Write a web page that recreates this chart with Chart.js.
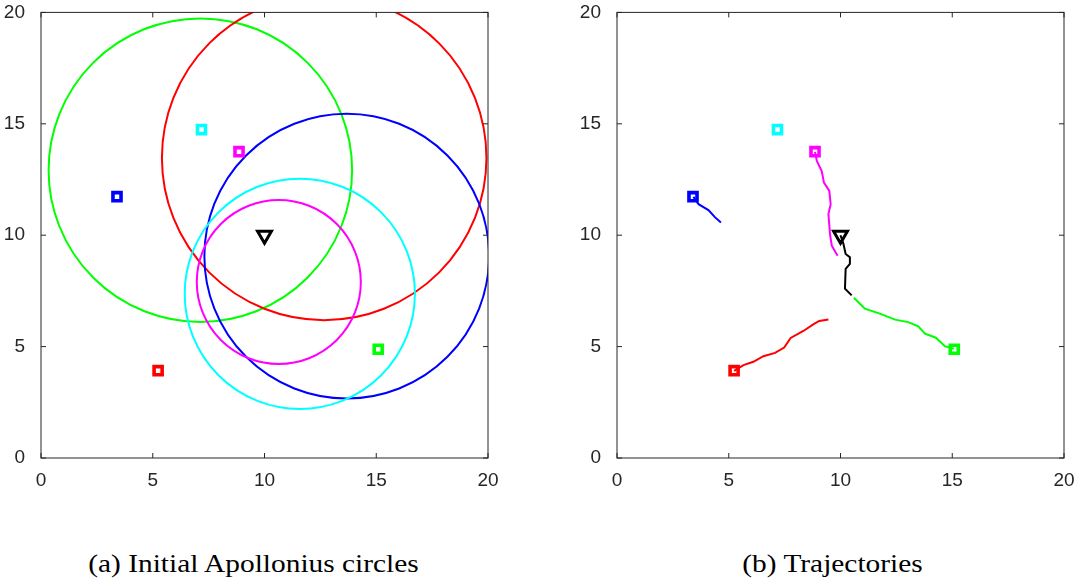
<!DOCTYPE html>
<html>
<head>
<meta charset="utf-8">
<script src="https://cdn.jsdelivr.net/npm/chart.js@4.4.0/dist/chart.umd.min.js"></script>
<style>
  body { margin: 0; background: #fff; width: 1081px; height: 583px; overflow: hidden; position: relative; }
  .panel { position: absolute; top: -7px; width: 505px; height: 507px; }
  .caption { position: absolute; top: 551px; width: 505px; text-align: center; line-height: 1;
             font-family: 'Liberation Serif', 'Times New Roman', serif; font-size: 26px; color: #000;
             transform: scaleX(1.13); }
</style>
</head>
<body>
<div class="panel" style="left:0"><canvas id="left"></canvas></div>
<div class="panel" style="left:576px"><canvas id="right"></canvas></div>
<div class="caption" style="left:1px">(a) Initial Apollonius circles</div>
<div class="caption" style="left:580px">(b) Trajectories</div>
<script>
const Chart = window.Chart;

// agents (blue, cyan, magenta, red, green) and the target
const agentX = [3.40, 7.18, 8.86, 5.24, 15.09];
const agentY = [11.73, 14.74, 13.75, 3.92, 4.88];
const agentColors = ['#0000ff', '#00ffff', '#ff00ff', '#ff0000', '#00ff00'];
const targetX = [10];
const targetY = [10];

// initial Apollonius circles
const circleX = [7.13, 12.67, 13.68, 11.58, 10.64];
const circleY = [12.92, 13.47, 9.06, 7.37, 7.90];
const circleR = [6.79, 7.26, 6.37, 5.15, 3.67];
const circleColors = ['#00ff00', '#ff0000', '#0000ff', '#00ffff', '#ff00ff'];

// trajectories
const blueX = [3.42, 3.65, 4.09, 4.39, 4.65];
const blueY = [11.72, 11.39, 11.13, 10.80, 10.57];
const magentaX = [8.86, 8.94, 9.16, 9.26, 9.50, 9.56, 9.46, 9.53, 9.61, 9.87];
const magentaY = [13.74, 13.33, 12.88, 12.36, 11.99, 11.39, 10.95, 10.05, 9.53, 9.08];
const blackX = [10.00, 10.13, 10.23, 10.42, 10.42, 10.23, 10.20, 10.50];
const blackY = [10.00, 9.61, 9.16, 9.01, 8.71, 8.49, 7.60, 7.30];
const greenX = [10.60, 11.09, 11.76, 12.44, 13.03, 13.48, 13.78, 14.27, 14.67, 15.07];
const greenY = [7.19, 6.70, 6.48, 6.21, 6.10, 5.91, 5.58, 5.40, 5.02, 4.90];
const redX = [5.24, 5.66, 6.10, 6.55, 7.07, 7.48, 7.77, 8.34, 8.78, 9.05, 9.46];
const redY = [3.91, 4.17, 4.32, 4.57, 4.72, 4.96, 5.39, 5.70, 6.00, 6.15, 6.22];

const tickValues = [0, 5, 10, 15, 20];
const axisColor = '#262626';

function points(xs, ys) {
  return xs.map((x, i) => ({x: x, y: ys[i]}));
}

function trajectory(xs, ys, color) {
  return {
    data: points(xs, ys),
    showLine: true,
    borderColor: color,
    borderWidth: 2,
    pointRadius: 0,
    clip: 0
  };
}

const agentSet = {
  data: points(agentX, agentY),
  pointStyle: 'rect',
  pointRadius: 5.7,
  pointBorderWidth: 3.6,
  pointBorderColor: agentColors,
  pointBackgroundColor: '#fff'
};
const targetSet = {
  data: points(targetX, targetY),
  pointStyle: 'triangle',
  rotation: 180,
  pointRadius: 8,
  pointBorderWidth: 3,
  pointBorderColor: '#000',
  pointBackgroundColor: '#fff'
};

// axes box with inward ticks, like the original figure
const boxPlugin = {
  id: 'box',
  afterDatasetsDraw(chart) {
    const {ctx, chartArea: a, scales: {x, y}} = chart;
    const len = 5;
    ctx.save();
    ctx.strokeStyle = axisColor;
    ctx.lineWidth = 1;
    ctx.strokeRect(a.left, a.top, a.width, a.height);
    ctx.beginPath();
    for (const v of tickValues) {
      const px = x.getPixelForValue(v);
      ctx.moveTo(px, a.bottom); ctx.lineTo(px, a.bottom - len);
      ctx.moveTo(px, a.top); ctx.lineTo(px, a.top + len);
      const py = y.getPixelForValue(v);
      ctx.moveTo(a.left, py); ctx.lineTo(a.left + len, py);
      ctx.moveTo(a.right, py); ctx.lineTo(a.right - len, py);
    }
    ctx.stroke();
    ctx.restore();
  }
};

function makePanel(id, datasets) {
  const tickFont = {family: "'Liberation Sans', Arial, sans-serif", size: 19};
  new Chart(document.getElementById(id), {
    type: 'scatter',
    data: {datasets: datasets},
    options: {
      responsive: true,
      maintainAspectRatio: false,
      animation: false,
      events: [],
      layout: {padding: {left: 0, top: 4, right: 17, bottom: 0}},
      plugins: {legend: {display: false}, tooltip: {enabled: false}},
      scales: {
        x: {
          type: 'linear', min: 0, max: 20,
          ticks: {stepSize: 5, font: tickFont, color: axisColor, padding: 3, maxRotation: 0},
          grid: {display: false},
          border: {display: false},
          afterFit: s => { s.height = 42; }
        },
        y: {
          type: 'linear', min: 0, max: 20,
          ticks: {stepSize: 5, font: tickFont, color: axisColor, padding: 8},
          grid: {display: false},
          border: {display: false},
          afterFit: s => { s.width = 41; }
        }
      }
    },
    plugins: [boxPlugin]
  });
}

// left: Apollonius circles, radius converted to pixels through the x scale
const circleSet = {
  data: points(circleX, circleY),
  pointStyle: 'circle',
  pointRadius: c => {
    const sx = c.chart.scales.x;
    return sx.getPixelForValue(circleR[c.dataIndex]) - sx.getPixelForValue(0);
  },
  pointBorderWidth: 2,
  pointBorderColor: circleColors,
  pointBackgroundColor: 'rgba(0,0,0,0)',
  clip: 0
};

makePanel('left', [targetSet, agentSet, circleSet]);
makePanel('right', [
  trajectory(blueX, blueY, '#0000ff'),
  trajectory(magentaX, magentaY, '#ff00ff'),
  trajectory(blackX, blackY, '#000000'),
  trajectory(greenX, greenY, '#00ff00'),
  trajectory(redX, redY, '#ff0000'),
  targetSet,
  agentSet
]);
</script>
</body>
</html>
